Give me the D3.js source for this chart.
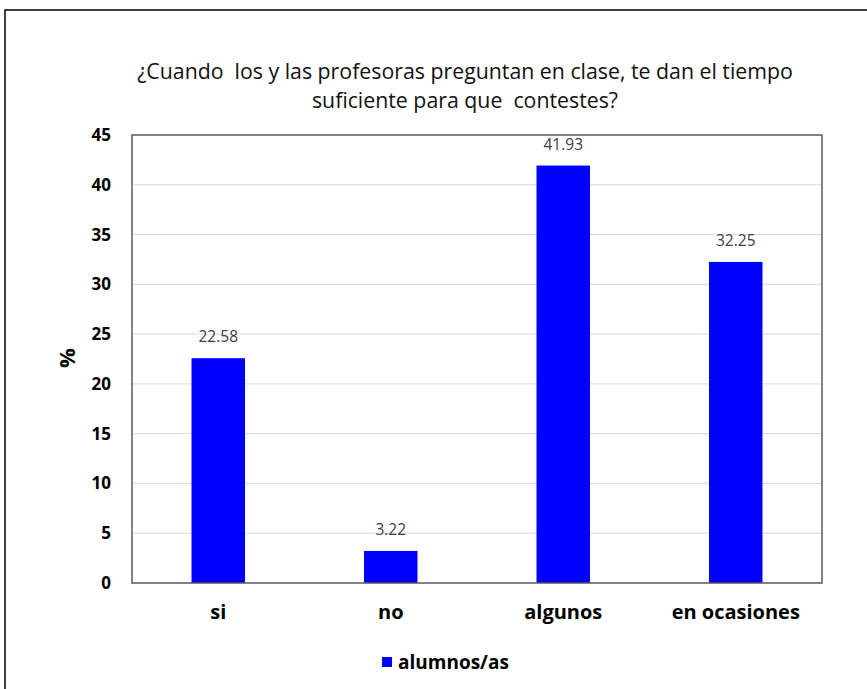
<!DOCTYPE html>
<html><head><meta charset="utf-8">
<script src="https://cdnjs.cloudflare.com/ajax/libs/d3/7.8.5/d3.min.js"></script>
<style>body{margin:0;background:#fff}svg{display:block}</style>
</head><body>
<script>
const categories = ["si", "no", "algunos", "en ocasiones"];
const values = [22.58, 3.22, 41.93, 32.25];
const yTicks = [0, 5, 10, 15, 20, 25, 30, 35, 40, 45];
const seriesName = "alumnos/as";
const titleLines = ["¿Cuando  los y las profesoras preguntan en clase, te dan el tiempo", "suficiente para que  contestes?"];

const W = 867, H = 689;
const font = "'Open Sans', sans-serif";
const svg = d3.select("body").append("svg").attr("width", W).attr("height", H);

// outer frame
svg.append("rect").attr("x", 5).attr("y", 10).attr("width", W + 10).attr("height", H + 10)
  .attr("fill", "#fff").attr("stroke", "#000").attr("stroke-width", 1.5);

const m = {left: 132, right: 822, top: 135, bottom: 583};
const x = d3.scaleBand().domain(categories).range([m.left, m.right]).paddingInner(0.69).paddingOuter(0.345);
const y = d3.scaleLinear().domain([0, 45]).range([m.bottom, m.top]);

// gridlines
svg.append("g").selectAll("line").data(yTicks.filter(t => t > 0 && t < 45)).join("line")
  .attr("x1", m.left).attr("x2", m.right).attr("y1", d => y(d)).attr("y2", d => y(d))
  .attr("stroke", "#d9d9d9").attr("stroke-width", 1);

// bars
svg.append("g").selectAll("rect").data(values).join("rect")
  .attr("x", (d, i) => x(categories[i])).attr("width", x.bandwidth())
  .attr("y", d => y(d)).attr("height", d => y(0) - y(d)).attr("fill", "#0000ff");

// data labels
svg.append("g").selectAll("text").data(values).join("text")
  .attr("x", (d, i) => x(categories[i]) + x.bandwidth() / 2).attr("y", d => y(d) - 16)
  .attr("text-anchor", "middle").attr("font-family", font).attr("font-size", 15.5).attr("fill", "#404040")
  .text(d => d.toFixed(2));

// plot border
svg.append("rect").attr("x", m.left).attr("y", m.top).attr("width", m.right - m.left).attr("height", m.bottom - m.top)
  .attr("fill", "none").attr("stroke", "#595959").attr("stroke-width", 1.5);

// y axis
const yAxis = d3.axisLeft(y).tickValues(yTicks).tickSize(0).tickPadding(21);
const gy = svg.append("g").attr("transform", `translate(${m.left},0)`).call(yAxis);
gy.select(".domain").remove();
gy.selectAll("text").attr("font-family", font).attr("font-size", 17).attr("font-weight", "bold").attr("fill", "#000");

// x axis
const xAxis = d3.axisBottom(x).tickSize(0).tickPadding(22);
const gx = svg.append("g").attr("transform", `translate(0,${m.bottom})`).call(xAxis);
gx.select(".domain").remove();
gx.selectAll("text").attr("font-family", font).attr("font-size", 20).attr("font-weight", "bold").attr("fill", "#000");

// y label
svg.append("text").attr("transform", "translate(75,358) rotate(-90)").attr("text-anchor", "middle")
  .attr("font-family", font).attr("font-size", 22).attr("font-weight", "bold").text("%");

// title
svg.append("g").selectAll("text").data(titleLines).join("text")
  .attr("x", 465).attr("y", (d, i) => 79 + i * 29).attr("text-anchor", "middle")
  .style("white-space", "pre")
  .attr("font-family", font).attr("font-size", 21.3).attr("fill", "#111").text(d => d);

// legend
svg.append("rect").attr("x", 382).attr("y", 657).attr("width", 10).attr("height", 10).attr("fill", "#0000ff");
svg.append("text").attr("x", 398).attr("y", 669).attr("font-family", font).attr("font-size", 19)
  .attr("font-weight", "bold").attr("fill", "#000").text(seriesName);
</script>
</body></html>
